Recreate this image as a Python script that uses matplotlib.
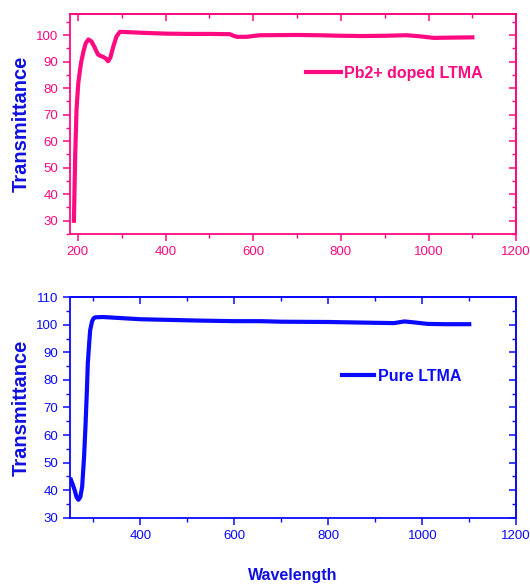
import matplotlib.pyplot as plt
from matplotlib.ticker import MultipleLocator

# Pb2+ doped LTMA (top panel)
wl_pb = [191, 194, 197, 201, 205, 208, 213, 218, 224, 231, 238, 246, 252, 258, 264, 269, 274,
         281, 288, 296, 310, 350, 402, 450, 500, 547, 555, 563, 585, 600, 616, 700, 750, 800,
         850, 900, 950, 980, 1012, 1050, 1100]
tr_pb = [30, 55, 72, 82, 87, 90.2, 94, 97, 98.4, 97.7, 95.5, 92.7, 92.2, 91.8, 91.2, 90.2, 91.5,
         95.8, 99.5, 101.3, 101.2, 100.9, 100.6, 100.5, 100.5, 100.4, 99.8, 99.4, 99.4, 99.7,
         100.0, 100.1, 100.0, 99.8, 99.7, 99.8, 100.0, 99.6, 99.0, 99.1, 99.2]

# Pure LTMA (bottom panel)
wl_pure = [252, 256, 260, 264, 268, 272, 276, 280, 283, 286, 288, 291, 293, 297, 300, 304, 320,
           360, 400, 450, 528, 600, 656, 700, 800, 900, 940, 962, 980, 1012, 1050, 1100]
tr_pure = [43.8, 42, 40, 37.5, 36.5, 37.5, 41.3, 52, 63, 76, 86, 93.5, 98, 101.2, 102.3, 102.7,
           102.8, 102.4, 102.0, 101.8, 101.5, 101.3, 101.3, 101.1, 101.0, 100.7, 100.6, 101.2,
           100.9, 100.3, 100.2, 100.2]

pink = '#ff0a80'
blue = '#0a0aff'
label_blue = '#1010e0'

plt.rcParams['font.family'] = ['Liberation Sans', 'DejaVu Sans']

fig = plt.figure(figsize=(5.3, 5.85), dpi=100)
ax1 = fig.add_axes([0.132, 0.600, 0.842, 0.376])
ax2 = fig.add_axes([0.132, 0.115, 0.842, 0.377])


def style(ax, c):
    for s in ax.spines.values():
        s.set_color(c)
        s.set_linewidth(1.3)
    ax.xaxis.set_major_locator(MultipleLocator(200))
    ax.xaxis.set_minor_locator(MultipleLocator(100))
    ax.yaxis.set_major_locator(MultipleLocator(10))
    ax.yaxis.set_minor_locator(MultipleLocator(5))
    ax.tick_params(colors=c, labelsize=9.5, width=1.1, length=5, direction='out')
    ax.tick_params(which='minor', colors=c, width=1.0, length=3, direction='out')
    # inward ticks on top and right
    top = ax.secondary_xaxis('top')
    top.xaxis.set_major_locator(MultipleLocator(200))
    top.xaxis.set_minor_locator(MultipleLocator(100))
    right = ax.secondary_yaxis('right')
    right.yaxis.set_major_locator(MultipleLocator(10))
    right.yaxis.set_minor_locator(MultipleLocator(5))
    for sec in (top, right):
        sec.tick_params(colors=c, width=1.1, length=5, direction='in',
                        labeltop=False, labelright=False)
        sec.tick_params(which='minor', colors=c, width=1.0, length=3, direction='in')
        for s in sec.spines.values():
            s.set_color(c)
            s.set_linewidth(1.3)
    ax.set_ylabel('Transmittance', color=label_blue, fontsize=14.5, fontweight='bold',
                  labelpad=4)


# top panel
ax1.plot(wl_pb, tr_pb, color=pink, lw=3, label='Pb2+ doped LTMA')
ax1.set_xlim(182, 1200)
ax1.set_ylim(25, 108)
style(ax1, pink)
ax1.set_yticks(range(30, 101, 10))
leg1 = ax1.legend(loc='upper right', bbox_to_anchor=(0.957, 0.83), frameon=False,
                  handlelength=2.2, handletextpad=0.2, prop={'weight': 'bold', 'size': 11.5})
for t in leg1.get_texts():
    t.set_color(pink)

# bottom panel
ax2.plot(wl_pure, tr_pure, color=blue, lw=3, label='Pure LTMA')
ax2.set_xlim(250, 1200)
ax2.set_ylim(30, 110)
style(ax2, blue)
ax2.set_xticks([400, 600, 800, 1000, 1200])
ax2.set_xlabel('Wavelength', color=label_blue, fontsize=11.5, fontweight='bold', labelpad=19)
leg2 = ax2.legend(loc='upper right', bbox_to_anchor=(0.91, 0.74), frameon=False,
                  handlelength=2.0, handletextpad=0.3, prop={'weight': 'bold', 'size': 11.5})
for t in leg2.get_texts():
    t.set_color(blue)

fig.savefig('out.png', dpi=100)
